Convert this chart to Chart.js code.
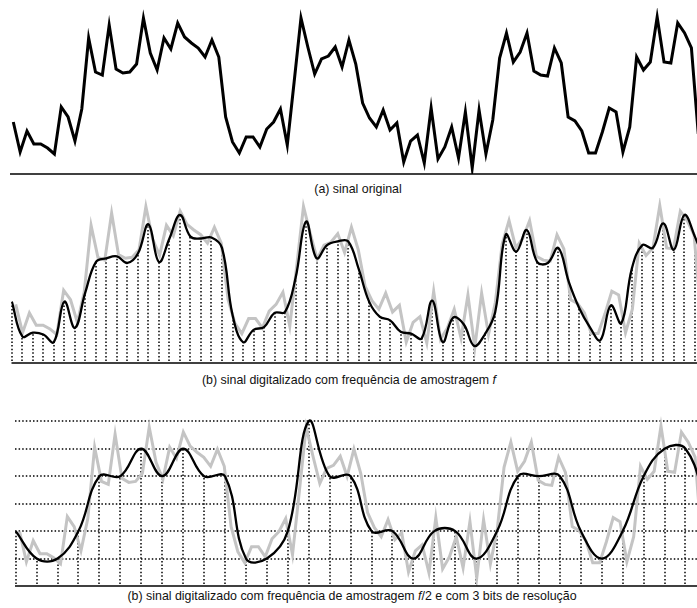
<!DOCTYPE html>
<html>
<head>
<meta charset="utf-8">
<script src="https://cdn.jsdelivr.net/npm/chart.js@4"></script>
<style>
  body { margin: 0; background: #fff; width: 697px; height: 608px; position: relative; overflow: hidden;
         font-family: "Liberation Sans", Arial, sans-serif; }
  canvas { position: absolute; left: 0; }
  .cap { position: absolute; font-size: 12.4px; line-height: 14px; color: #111; white-space: nowrap;
         transform: translateX(-50%); }
</style>
</head>
<body>
<canvas id="sinalOriginal" width="697" height="176" style="top:0px"></canvas>
<div class="cap" style="left:358px;top:182px">(a) sinal original</div>
<canvas id="sinalF" width="697" height="175" style="top:190px"></canvas>
<div class="cap" style="left:349px;top:373px">(b) sinal digitalizado com frequência de amostragem <i>f</i></div>
<canvas id="sinalF2" width="697" height="196" style="top:392px"></canvas>
<div class="cap" style="left:352px;top:589px">(b) sinal digitalizado com frequência de amostragem <i>f</i>/2 e com 3 bits de resolução</div>
<script>
// original signal, one value per original sample
const ORIGINAL = [
  52, 22, 43, 30, 30, 26, 20, 67, 57, 33,
  65, 136, 102, 99, 149, 105, 101, 102, 110, 156,
  121, 104, 136, 125, 151, 137, 131, 126, 117, 134,
  117, 57, 32, 21, 37, 37, 27, 45, 52, 65,
  29, 92, 156, 127, 100, 115, 118, 127, 107, 134,
  110, 71, 56, 47, 64, 44, 51, 12, 33, 39,
  11, 66, 15, 27, 47, 16, 62, 6, 64, 20,
  54, 116, 141, 112, 122, 141, 103, 99, 98, 126,
  111, 57, 53, 43, 21, 21, 42, 66, 62, 22,
  47, 117, 104, 112, 157, 112, 111, 151, 141, 126,
  40
];
// samples taken at frequency f
const SAMPLED_F = [
  55, 18, 22, 20, 12, 55, 27, 65, 97, 101,
  103, 96, 106, 137, 97, 122, 147, 124, 122, 123,
  112, 41, 12, 25, 28, 43, 44, 80, 140, 101,
  115, 119, 119, 90, 55, 39, 35, 23, 21, 16,
  56, 12, 38, 31, 8, 20, 44, 126, 108, 131,
  97, 96, 112, 76, 48, 28, 14, 51, 32, 90,
  115, 112, 138, 110, 147, 124, 95
];
// samples at f/2, quantised to 3 bits (levels 0..7)
const QUANTIZED_F2 = [
  2, 1, 1, 2, 4, 4, 5, 4, 5, 4,
  4, 1, 1, 2, 6, 4, 4, 2, 2, 1,
  2, 2, 1, 2, 4, 4, 4, 2, 1, 2,
  4, 5, 5, 3
];
const LEVEL_LINES = [1, 2, 3, 4, 5, 6];

// time base: sampling period of f = 1
const T0 = 0.37, DT_ORIG = 0.652, DT_F = 1, DT_F2 = 2;
// quantisation level 0 and step, in signal units
const LEVEL_ZERO = -2, LEVEL_STEP = 27.29;

const origPts = ORIGINAL.map((v, i) => ({ x: T0 + DT_ORIG * i, y: v }));
const fPts = SAMPLED_F.map((v, k) => ({ x: DT_F * k, y: v }));
const f2Pts = QUANTIZED_F2.map((v, k) => ({ x: DT_F2 * k, y: v }));

const signalMarks = {
  id: 'signalMarks',
  beforeDatasetsDraw(chart, args, opts) {
    const { ctx, chartArea: a, scales } = chart;
    ctx.save();
    ctx.strokeStyle = '#000';
    ctx.lineCap = 'butt';
    ctx.lineWidth = 1.5;
    ctx.setLineDash([1.5, 2.1]);
    if (opts.levels) {
      const ys = scales[opts.levelAxis];
      opts.levels.forEach(l => {
        const y = Math.round(ys.getPixelForValue(l));
        ctx.beginPath(); ctx.moveTo(a.left, y); ctx.lineTo(a.right, y); ctx.stroke();
      });
    }
    if (opts.stems != null) {
      const meta = chart.getDatasetMeta(opts.stems);
      meta.data.forEach(p => {
        if (p.x < a.left - 1 || p.x > a.right + 1) return;
        const x = Math.round(p.x);
        ctx.beginPath(); ctx.moveTo(x, a.bottom - 2); ctx.lineTo(x, p.y); ctx.stroke();
      });
    }
    ctx.restore();
  },
  afterDatasetsDraw(chart) {
    const { ctx, chartArea: a } = chart;
    ctx.save();
    ctx.strokeStyle = '#000';
    ctx.lineWidth = 1.5;
    ctx.beginPath(); ctx.moveTo(a.left, a.bottom); ctx.lineTo(a.right, a.bottom); ctx.stroke();
    ctx.restore();
  }
};

function baseOptions(xmin, xmax, ymin, ymax, left, marks) {
  return {
    responsive: false,
    animation: false,
    devicePixelRatio: 1,
    layout: { padding: { left: left, right: 0, top: 8, bottom: 2 } },
    elements: { point: { radius: 0 } },
    scales: {
      x: { type: 'linear', display: false, min: xmin, max: xmax },
      y: { display: false, min: ymin, max: ymax }
    },
    plugins: { legend: { display: false }, tooltip: { enabled: false }, signalMarks: marks }
  };
}

new Chart(document.querySelector('#sinalOriginal'), {
  type: 'line',
  data: { datasets: [{ data: origPts, borderColor: '#000', borderWidth: 3, tension: 0 }] },
  options: baseOptions(0.056, 65.45, 0, 166, 10, {}),
  plugins: [signalMarks]
});

new Chart(document.querySelector('#sinalF'), {
  type: 'line',
  data: {
    datasets: [
      { data: fPts, borderColor: '#000', borderWidth: 2.3, tension: 0.4, order: 1 },
      { data: origPts, borderColor: '#c4c4c4', borderWidth: 3, tension: 0, order: 2 }
    ]
  },
  options: baseOptions(-0.03, 65.2, -10.2, 165, 11.5, { stems: 0 }),
  plugins: [signalMarks]
});

const f2Opts = baseOptions(-0.067, 65.1, LEVEL_ZERO, LEVEL_ZERO + 184.9, 15,
  { stems: 0, levels: LEVEL_LINES, levelAxis: 'yq' });
f2Opts.scales.yq = { display: false, min: 0, max: 184.9 / LEVEL_STEP };
new Chart(document.querySelector('#sinalF2'), {
  type: 'line',
  data: {
    datasets: [
      { data: f2Pts, yAxisID: 'yq', borderColor: '#000', borderWidth: 2.3, tension: 0.4, order: 1 },
      { data: origPts, borderColor: '#c4c4c4', borderWidth: 3, tension: 0, order: 2 }
    ]
  },
  options: f2Opts,
  plugins: [signalMarks]
});
</script>
</body>
</html>
